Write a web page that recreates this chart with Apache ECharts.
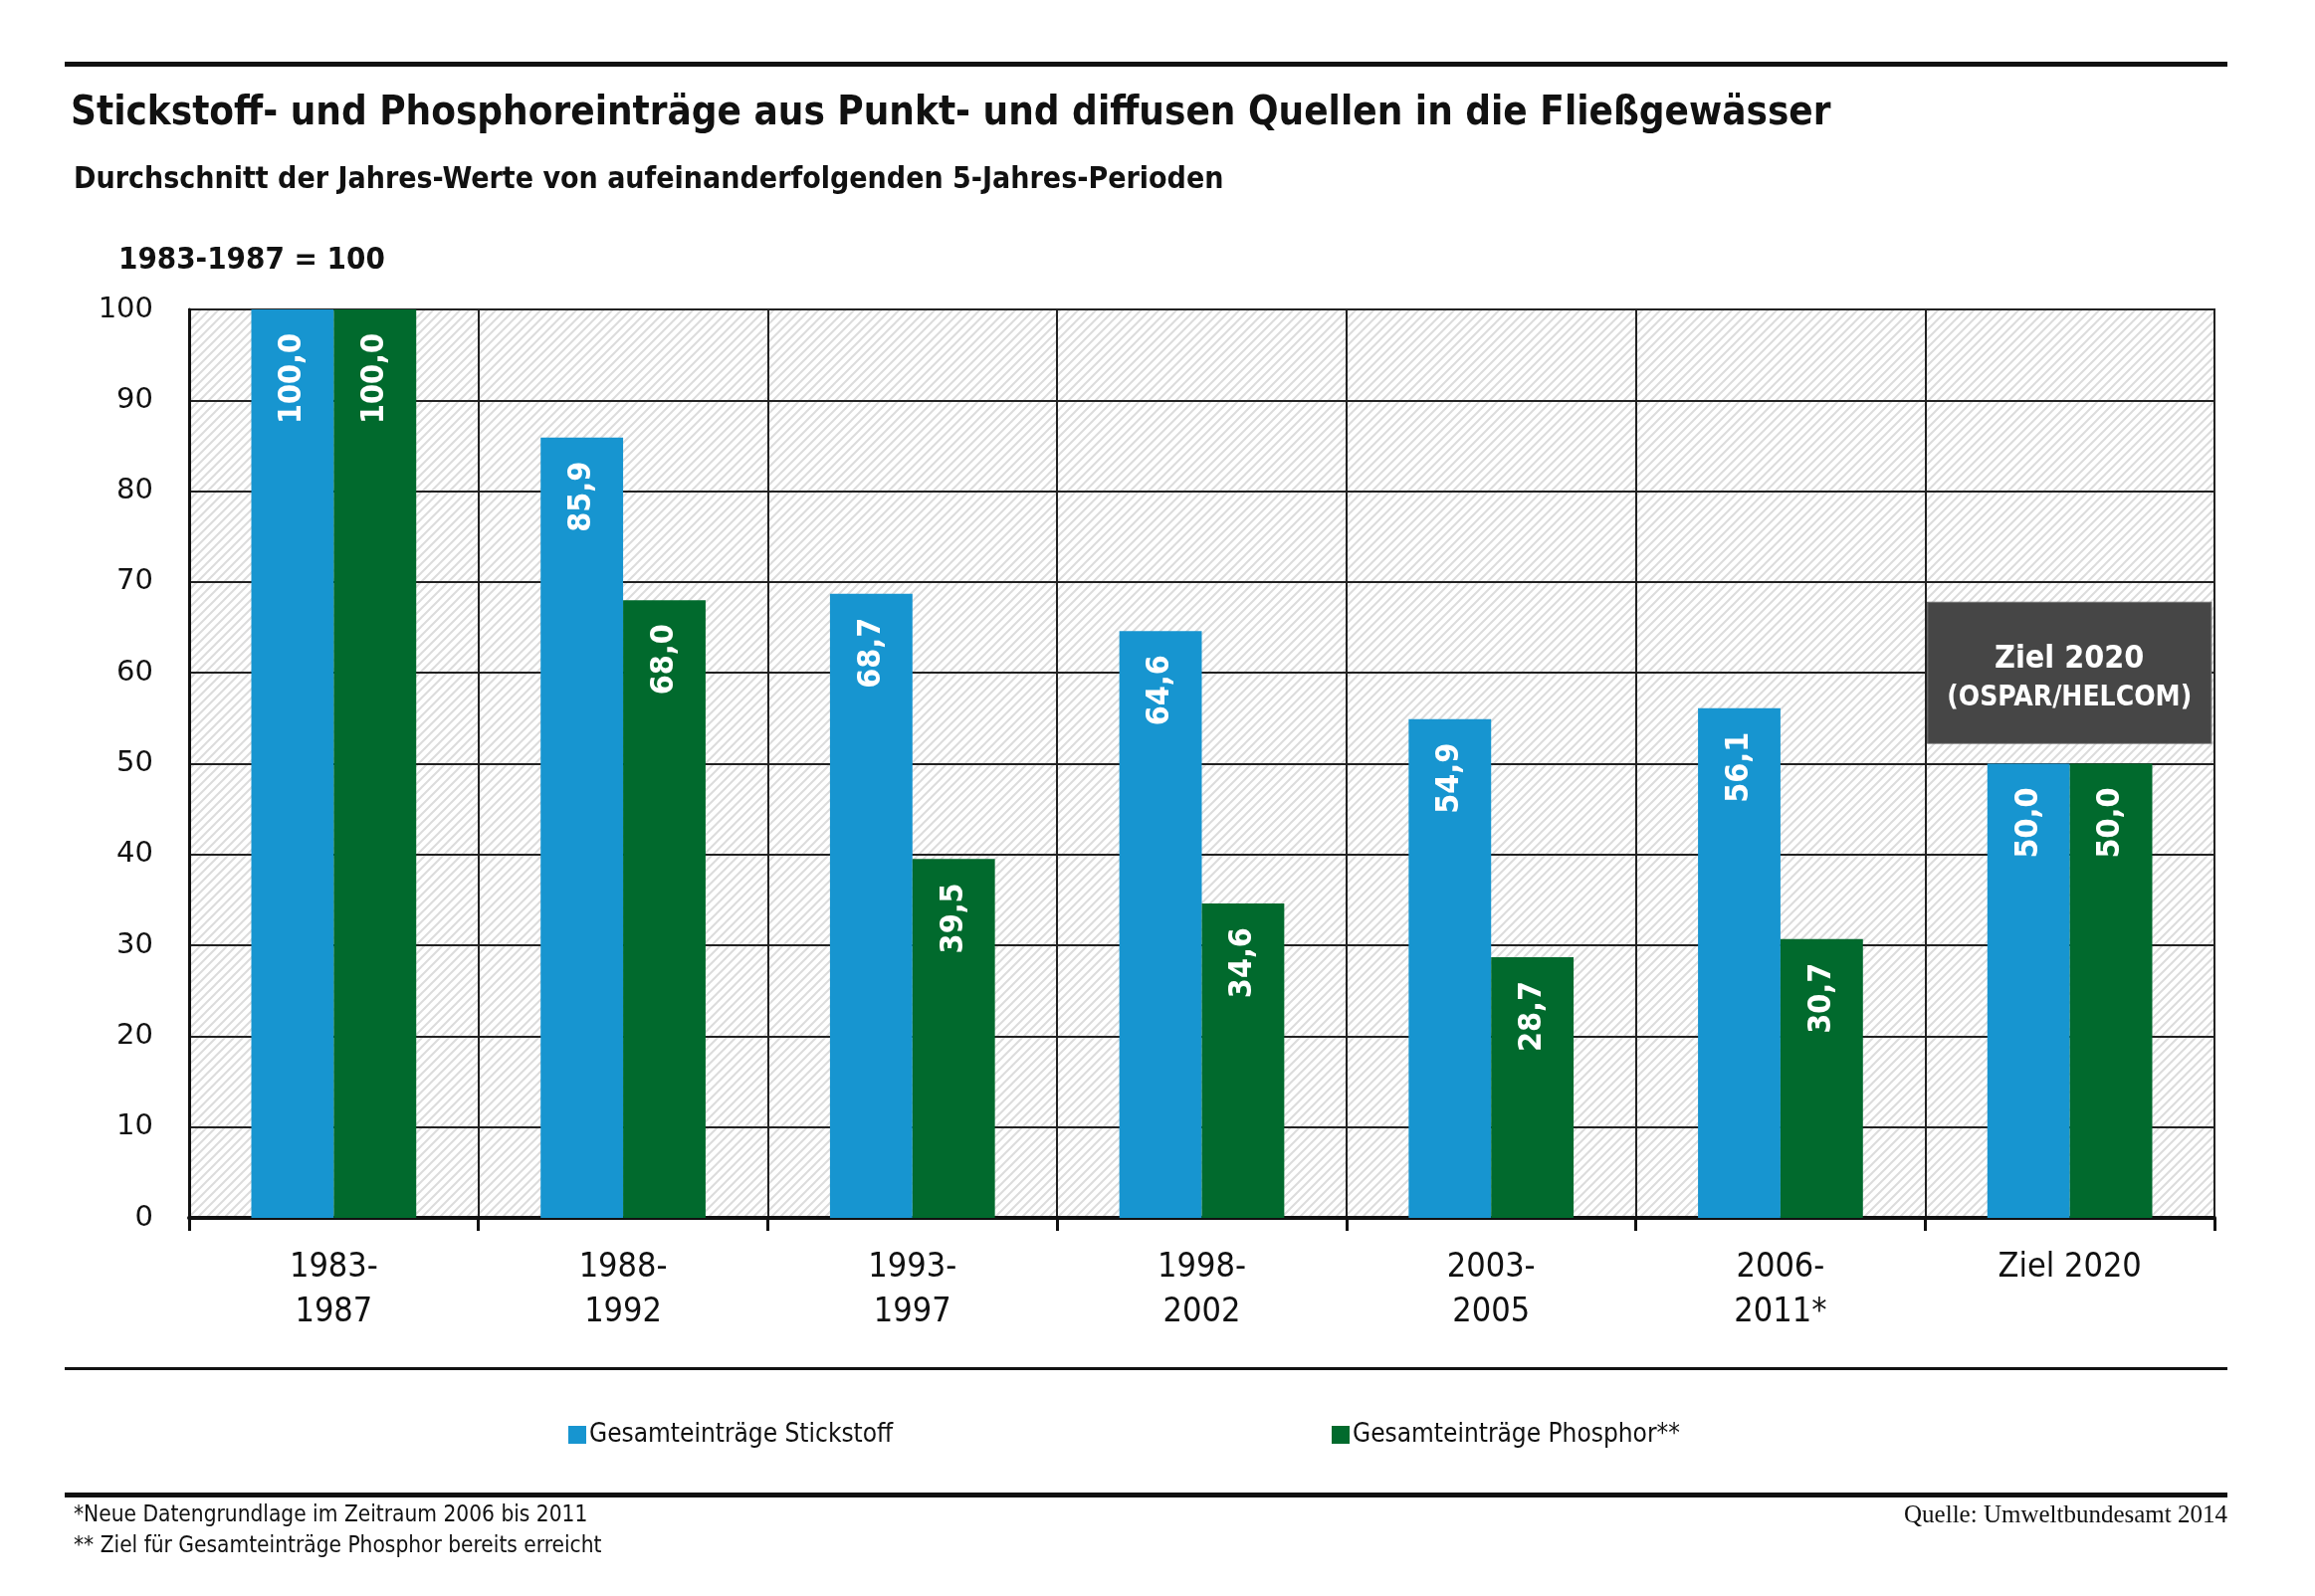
<!DOCTYPE html>
<html>
<head>
<meta charset="utf-8">
<script src="https://cdn.jsdelivr.net/npm/echarts@6/dist/echarts.min.js"></script>
<style>
  html, body { margin: 0; padding: 0; background: #fff; }
  #chart { width: 2326px; height: 1604px; }
</style>
</head>
<body>
<div id="chart"></div>
<script>
// Daten
const periods = ["1983-\n1987", "1988-\n1992", "1993-\n1997", "1998-\n2002", "2003-\n2005", "2006-\n2011*", "Ziel 2020"];
const stickstoff = [100, 85.9, 68.7, 64.6, 54.9, 56.1, 50];
const phosphor = [100, 68, 39.5, 34.6, 28.7, 30.7, 50];
const seriesNames = ["Gesamteinträge Stickstoff", "Gesamteinträge Phosphor**"];
const targetLabel = ["Ziel 2020", "(OSPAR/HELCOM)"];
const targetValue = 60; // Mitte des Kastens

const narrow = '"Liberation Sans Narrow", "DejaVu Sans Condensed", sans-serif';
const blue = "#1795d0";
const green = "#016a2d";

// Schraffur für den Hintergrund
const hatch = document.createElement("canvas");
hatch.width = 9;
hatch.height = 9;
const hctx = hatch.getContext("2d");
hctx.fillStyle = "#fff";
hctx.fillRect(0, 0, 9, 9);
hctx.strokeStyle = "#dcdcdc";
hctx.lineWidth = 2;
hctx.beginPath();
hctx.moveTo(0, 9); hctx.lineTo(9, 0);
hctx.moveTo(-2, 2); hctx.lineTo(2, -2);
hctx.moveTo(7, 11); hctx.lineTo(11, 7);
hctx.stroke();

const fmt = (p) => p.value.toFixed(1).replace(".", ",");

const chart = echarts.init(document.getElementById("chart"));

function barSeries(name, values, color, withTarget) {
  const s = {
    name: name,
    type: "bar",
    data: values,
    barWidth: "28.5%",
    barGap: "0%",
    itemStyle: { color: color },
    label: {
      show: true,
      position: "insideTop",
      distance: 24,
      rotate: 90,
      align: "right",
      verticalAlign: "middle",
      color: "#fff",
      fontFamily: '"DejaVu Sans Condensed", sans-serif',
      fontWeight: "bold",
      fontSize: 32,
      formatter: fmt,
    },
  };
  if (withTarget) {
    // Kasten über der Kategorie, nicht über dem einzelnen Balken
    s.markPoint = {
      symbol: "rect",
      symbolSize: [285, 142],
      symbolOffset: [41, 0],
      silent: true,
      itemStyle: { color: "#464646", borderColor: "#6a6a6a", borderWidth: 1 },
      label: {
        show: true,
        position: "inside",
        offset: [0, 5],
        formatter: "{a|" + targetLabel[0] + "}\n{b|" + targetLabel[1] + "}",
        rich: {
          a: { color: "#fff", fontFamily: narrow, fontWeight: "bold", fontSize: 32, lineHeight: 42 },
          b: { color: "#fff", fontFamily: narrow, fontWeight: "bold", fontSize: 28, lineHeight: 38 },
        },
      },
      data: [{ coord: [periods[periods.length - 1], targetValue] }],
    };
  }
  return s;
}

const option = {
  animation: false,
  backgroundColor: "#fff",
  grid: {
    left: 190,
    right: 101,
    top: 311,
    bottom: 380,
    show: true,
    backgroundColor: { image: hatch, repeat: "repeat" },
    borderColor: "#1a1a1a",
    borderWidth: 2,
  },
  legend: [
    {
      data: [seriesNames[0]],
      left: 566,
      top: 1424,
      icon: "rect",
      itemWidth: 18,
      itemHeight: 18,
      textStyle: { fontFamily: narrow, fontSize: 26, color: "#111", padding: [0, 0, 0, -2] },
    },
    {
      data: [seriesNames[1]],
      left: 1333,
      top: 1424,
      icon: "rect",
      itemWidth: 18,
      itemHeight: 18,
      textStyle: { fontFamily: narrow, fontSize: 26, color: "#111", padding: [0, 0, 0, -2] },
    },
  ],
  xAxis: {
    type: "category",
    data: periods,
    axisLine: { lineStyle: { color: "#111", width: 4 } },
    axisTick: { show: true, length: 13, lineStyle: { color: "#111", width: 3 } },
    axisLabel: {
      color: "#111",
      fontFamily: narrow,
      fontSize: 34,
      lineHeight: 45,
      margin: 28,
    },
    splitLine: { show: true, lineStyle: { color: "#222", width: 2 } },
  },
  yAxis: {
    type: "value",
    min: 0,
    max: 100,
    interval: 10,
    axisLine: { show: true, lineStyle: { color: "#111", width: 3 } },
    axisTick: { show: false },
    axisLabel: {
      color: "#111",
      fontFamily: '"DejaVu Sans", sans-serif',
      fontSize: 29,
      margin: 36,
    },
    splitLine: { show: true, lineStyle: { color: "#222", width: 2 } },
  },
  series: [
    barSeries(seriesNames[0], stickstoff, blue, true),
    barSeries(seriesNames[1], phosphor, green, false),
  ],
  graphic: [
    { type: "rect", shape: { x: 65, y: 62, width: 2173, height: 5 }, style: { fill: "#111" } },
    {
      type: "text", x: 71, y: 115,
      style: {
        text: "Stickstoff- und Phosphoreinträge aus Punkt- und diffusen Quellen in die Fließgewässer",
        fontFamily: narrow, fontWeight: "bold", fontSize: 40, fill: "#111", verticalAlign: "middle",
      },
    },
    {
      type: "text", x: 74, y: 181,
      style: {
        text: "Durchschnitt der Jahres-Werte von aufeinanderfolgenden 5-Jahres-Perioden",
        fontFamily: narrow, fontWeight: "bold", fontSize: 30, fill: "#111", verticalAlign: "middle",
      },
    },
    {
      type: "text", x: 119, y: 262,
      style: {
        text: "1983-1987 = 100",
        fontFamily: narrow, fontWeight: "bold", fontSize: 31, fill: "#111", verticalAlign: "middle",
      },
    },
    { type: "rect", shape: { x: 65, y: 1374, width: 2173, height: 3 }, style: { fill: "#111" } },
    { type: "rect", shape: { x: 65, y: 1500, width: 2173, height: 5 }, style: { fill: "#111" } },
    {
      type: "text", x: 74, y: 1523,
      style: {
        text: "*Neue Datengrundlage im Zeitraum 2006 bis 2011",
        fontFamily: narrow, fontSize: 22.5, fill: "#111", verticalAlign: "middle",
      },
    },
    {
      type: "text", x: 74, y: 1554,
      style: {
        text: "** Ziel für Gesamteinträge Phosphor bereits erreicht",
        fontFamily: narrow, fontSize: 22.5, fill: "#111", verticalAlign: "middle",
      },
    },
    {
      type: "text", x: 2238, y: 1523,
      style: {
        text: "Quelle: Umweltbundesamt 2014",
        fontFamily: '"Liberation Serif", "DejaVu Serif", serif', fontSize: 25, fill: "#111",
        align: "right", verticalAlign: "middle",
      },
    },
  ],
};

chart.setOption(option);
</script>
</body>
</html>
